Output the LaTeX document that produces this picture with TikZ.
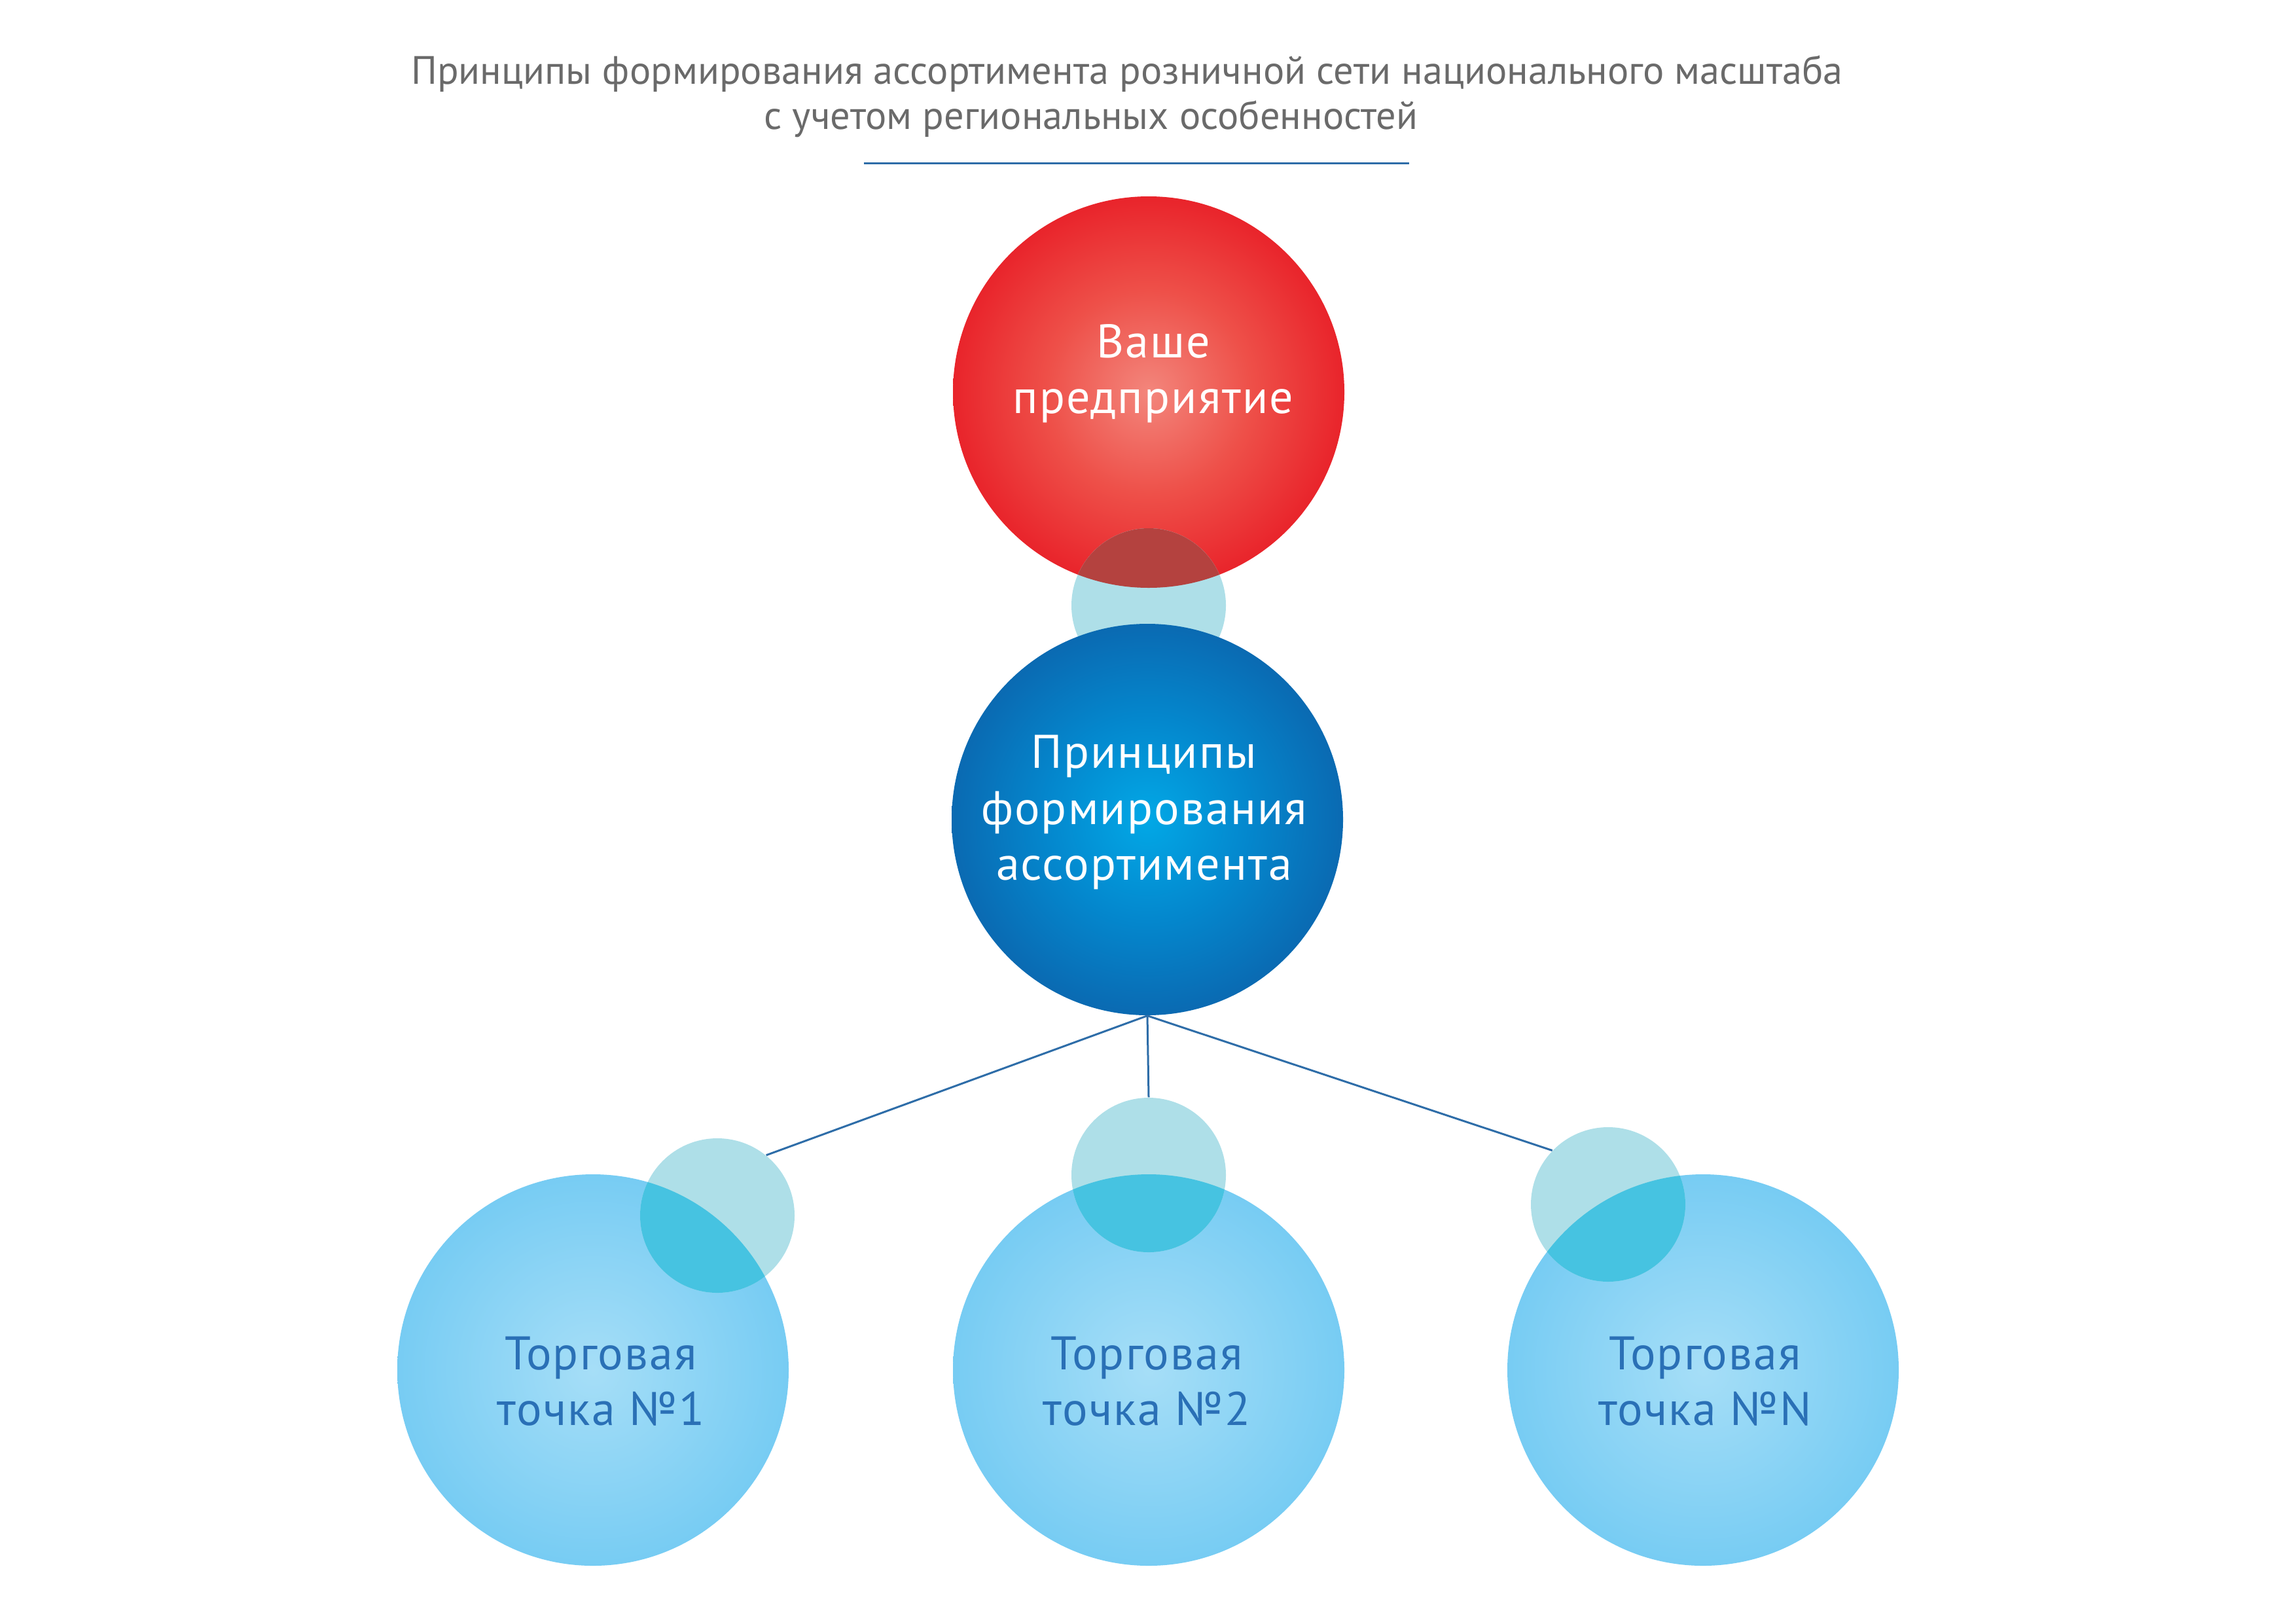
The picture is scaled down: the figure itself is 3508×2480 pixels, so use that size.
\documentclass[tikz,border=0pt]{standalone}
\usepackage{fontspec}
\setmainfont{PT Sans}
\newfontfamily\ballfont[LetterSpace=3]{PT Sans}
\newfontfamily\titlefont{PT Sans}
\usepackage{xcolor}
\definecolor{RedCore}{HTML}{F3867C}
\definecolor{RedMid}{HTML}{EE5049}
\definecolor{RedEdge}{HTML}{E9242B}
\definecolor{RedLap}{HTML}{B4423F}
\definecolor{HubCore}{HTML}{02A8E6}
\definecolor{HubMid}{HTML}{0487CD}
\definecolor{HubEdge}{HTML}{0A6AB2}
\definecolor{ShopCore}{HTML}{A6DEF7}
\definecolor{ShopEdge}{HTML}{77CCF3}
\definecolor{ShopLap}{HTML}{46C3E1}
\definecolor{DotBlue}{HTML}{AEDFE8}
\definecolor{LinkBlue}{HTML}{2E6DA8}
\definecolor{ShopText}{HTML}{2A70B6}
\definecolor{TitleGray}{HTML}{6A6A6A}
\usetikzlibrary{positioning, calc}
% the path fills the inner 50bp of the shading, so the rim sits at 25bp
\pgfdeclareradialshading{redball}{\pgfpoint{0bp}{0bp}}{color(0bp)=(RedCore); color(13bp)=(RedMid); color(25bp)=(RedEdge); color(50bp)=(RedEdge)}
\pgfdeclareradialshading{hubball}{\pgfpoint{0bp}{0bp}}{color(0bp)=(HubCore); color(13bp)=(HubMid); color(25bp)=(HubEdge); color(50bp)=(HubEdge)}
\pgfdeclareradialshading{shopball}{\pgfpoint{0bp}{0bp}}{color(0bp)=(ShopCore); color(25bp)=(ShopEdge); color(50bp)=(ShopEdge)}
\tikzset{
  % Circle styles
  bigball/.style={circle, draw=none, inner sep=0pt, minimum size=59.8mm, shade},
  firmball/.style={bigball, shading=redball},
  hubball/.style={bigball, shading=hubball},
  shopball/.style={bigball, shading=shopball},
  dotball/.style={circle, draw=none, inner sep=0pt, minimum size=23.6mm, fill=DotBlue},
  % Overlap styles
  redlap/.style={fill=RedLap},
  shoplap/.style={fill=ShopLap},
  % Text styles
  balltext/.style={align=center, inner sep=0pt, font=\ballfont\fontsize{20.5}{24.2}\selectfont},
  whitetext/.style={balltext, text=white},
  shoptext/.style={balltext, text=ShopText},
  titletext/.style={anchor=base, inner sep=0pt, text=TitleGray, font=\titlefont\fontsize{17.2}{19.6}\selectfont},
  % Line styles
  link/.style={line width=0.3mm, LinkBlue},
  rule/.style={line width=0.3mm, LinkBlue}
}
\begin{document}
\begin{tikzpicture}[x=0.1mm, y=-0.1mm]
  \useasboundingbox (0,0) rectangle (3508,2480);

  % Title
  \node[titletext] (title1) at (1722,128) {Принципы формирования ассортимента розничной сети национального масштаба};
  \node[titletext] (title2) at (1667,197) {с учетом региональных особенностей};
  \coordinate (ruleL) at (1320,249);
  \coordinate (ruleR) at (2153,249);
  \draw[rule] (ruleL) -- (ruleR);

  % Circles
  \node[firmball] (firm) at (1755,599) {};
  \node[shopball] (shopL) at (906,2093) {};
  \node[shopball] (shopM) at (1755,2093) {};
  \node[shopball] (shopR) at (2602,2093) {};

  % Small circles
  \node[dotball] (dotTop) at (1755,925) {};
  \node[dotball] (dotL) at (1096,1857) {};
  \node[dotball] (dotM) at (1755,1795) {};
  \node[dotball] (dotR) at (2457,1840) {};

  \node[hubball] (hub) at (1753,1252) {};

  % Overlaps
  \begin{scope}
    \clip (dotTop.center) circle[radius=11.8mm];
    \fill[redlap] (firm.center) circle[radius=29.9mm];
  \end{scope}
  \foreach \d/\s in {dotL/shopL, dotM/shopM, dotR/shopR}{
    \begin{scope}
      \clip (\d.center) circle[radius=11.8mm];
      \fill[shoplap] (\s.center) circle[radius=29.9mm];
    \end{scope}
  }

  % Links
  \draw[link] (hub.south) -- (dotL.51.6);
  \draw[link] (hub.south) -- (dotM.north);
  \draw[link] (hub.south) -- (dotR.136.7);

  % Labels
  \node[whitetext] (firmtxt) at (1762,571) {Ваше\\предприятие};
  \node[whitetext] (hubtxt) at (1748,1241) {Принципы\\формирования\\ассортимента};
  \node[shoptext] (shopLtxt) at (918,2110) {Торговая\\точка №1};
  \node[shoptext] (shopMtxt) at (1752,2110) {Торговая\\точка №2};
  \node[shoptext] (shopRtxt) at (2605,2110) {Торговая\\точка №N};
\end{tikzpicture}
\end{document}
